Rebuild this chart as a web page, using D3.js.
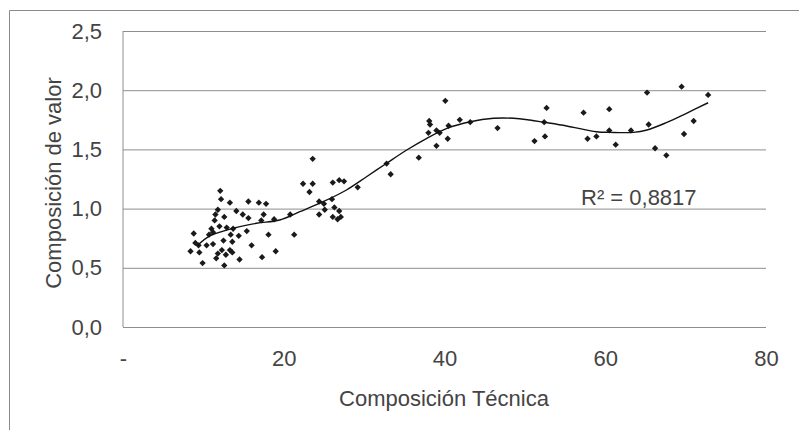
<!DOCTYPE html>
<html>
<head>
<meta charset="utf-8">
<script src="https://cdn.jsdelivr.net/npm/d3@7/dist/d3.min.js"></script>
<style>
  html, body { margin: 0; padding: 0; background: #fff; }
  svg { display: block; }
  text { font-family: "Liberation Sans", Arial, sans-serif; fill: #444; }
</style>
</head>
<body>
<svg id="chart" width="799" height="430"></svg>
<script>
// ---- data ----
const xValues = [
  12.1, 12.2, 13.3, 15.6, 16.9, 17.8, 11.8, 11.5, 12.6, 14.1, 14.9, 15.6, 17.5, 17.2, 18.8,
  11.4, 12.0, 12.9, 13.7, 11.0, 11.2, 15.4, 8.8, 10.7, 13.4, 14.4, 18.1, 12.5, 13.6, 9.0,
  9.4, 10.4, 11.2, 16.0, 8.4, 9.5, 12.3, 13.3, 13.6, 11.8, 12.8, 11.6, 19.0, 9.9, 14.5,
  17.3, 12.6,
  23.6, 22.4, 23.6, 23.2, 26.1, 26.9, 27.5, 29.2, 24.4, 25.0, 26.0, 25.1, 26.3, 24.4,
  26.9, 26.1, 26.7, 27.1, 20.8, 21.3,
  32.8, 33.3, 36.8, 38.1, 38.2, 38.0, 39.0, 39.4, 40.5, 40.1, 41.9, 43.2, 40.4, 39.0, 46.6,
  52.7, 52.4, 52.5, 51.2, 57.3, 57.8, 58.9, 60.5, 60.5, 61.3, 63.2, 65.2, 65.4, 66.2,
  67.6, 69.5, 69.8, 71.0, 72.8
];
const yValues = [
  1.15, 1.08, 1.05, 1.06, 1.05, 1.04, 0.99, 0.95, 0.93, 0.98, 0.95, 0.92, 0.95, 0.90, 0.91,
  0.90, 0.85, 0.84, 0.83, 0.83, 0.80, 0.81, 0.79, 0.78, 0.78, 0.77, 0.78, 0.73, 0.72, 0.71,
  0.69, 0.69, 0.70, 0.69, 0.64, 0.63, 0.65, 0.65, 0.63, 0.62, 0.61, 0.58, 0.64, 0.54, 0.57,
  0.59, 0.52,
  1.42, 1.21, 1.21, 1.14, 1.22, 1.24, 1.23, 1.18, 1.06, 1.04, 1.08, 0.99, 1.01, 0.95,
  0.98, 0.93, 0.91, 0.93, 0.95, 0.78,
  1.38, 1.29, 1.43, 1.74, 1.71, 1.64, 1.66, 1.64, 1.70, 1.91, 1.75, 1.73, 1.59, 1.53, 1.68,
  1.85, 1.73, 1.61, 1.57, 1.81, 1.59, 1.61, 1.84, 1.66, 1.54, 1.66, 1.98, 1.71, 1.51,
  1.45, 2.03, 1.63, 1.74, 1.96
];
// polynomial trend line
const trendX = [9.2, 10.8, 13.7, 16.6, 19.5, 22.0, 24.9, 27.8, 30.3, 32.8, 35.3, 37.8, 40.3,
  43.2, 46.1, 48.6, 50.6, 52.4, 55.2, 58.9, 60.6, 63.5, 65.2, 67.6, 70.1, 72.8];
const trendY = [0.684, 0.769, 0.834, 0.876, 0.904, 0.974, 1.058, 1.157, 1.269, 1.383, 1.495,
  1.594, 1.678, 1.734, 1.763, 1.763, 1.748, 1.729, 1.698, 1.649, 1.644, 1.644, 1.664, 1.726,
  1.805, 1.894];
const xTicks = [0, 20, 40, 60, 80];
const xTickLabels = ["-", "20", "40", "60", "80"];
const yTicks = [0, 0.5, 1.0, 1.5, 2.0, 2.5];
const yTickLabels = ["0,0", "0,5", "1,0", "1,5", "2,0", "2,5"];
const xTitle = "Composición Técnica";
const yTitle = "Composición de valor";
const r2Label = "R² = 0,8817";

// ---- layout ----
const svg = d3.select("#chart");
const plot = { left: 123, right: 766, top: 31, bottom: 327 };
const x = d3.scaleLinear().domain([0, 80]).range([plot.left, plot.right]);
const y = d3.scaleLinear().domain([0, 2.5]).range([plot.bottom, plot.top]);
const gridColor = "#8e8e8e";
const fontSize = 22;
const textColor = "#444";

// outer chart border (left + top only visible)
svg.append("path")
  .attr("d", "M9.5,430 L9.5,10.5 L799,10.5")
  .attr("fill", "none").attr("stroke", "#8a8a8a").attr("stroke-width", 1);

// horizontal gridlines + y labels
const yAxis = d3.axisLeft(y)
  .tickValues(yTicks)
  .tickFormat((d, i) => yTickLabels[i])
  .tickSize(-(plot.right - plot.left))
  .tickPadding(21);
const gy = svg.append("g").attr("transform", `translate(${plot.left},0)`).call(yAxis);
gy.select(".domain").remove();
gy.selectAll("line").attr("stroke", gridColor).attr("stroke-width", 1);
gy.selectAll("text").attr("font-size", fontSize).attr("fill", textColor)
  .attr("font-family", "Liberation Sans, Arial, sans-serif");

// left axis line
svg.append("line")
  .attr("x1", plot.left).attr("x2", plot.left)
  .attr("y1", y(2.5)).attr("y2", y(0))
  .attr("stroke", gridColor).attr("stroke-width", 1);

// x axis labels
const xAxis = d3.axisBottom(x)
  .tickValues(xTicks)
  .tickFormat((d, i) => xTickLabels[i])
  .tickSize(0)
  .tickPadding(23);
const gx = svg.append("g").attr("transform", `translate(0,${plot.bottom})`).call(xAxis);
gx.select(".domain").remove();
gx.selectAll("text").attr("font-size", fontSize).attr("fill", textColor)
  .attr("font-family", "Liberation Sans, Arial, sans-serif");

// axis titles
svg.append("text")
  .attr("x", 444)
  .attr("y", 406)
  .attr("text-anchor", "middle")
  .attr("font-size", fontSize)
  .attr("fill", textColor)
  .text(xTitle);
svg.append("text")
  .attr("transform", `translate(61,${(plot.top + plot.bottom) / 2 + 4}) rotate(-90)`)
  .attr("text-anchor", "middle")
  .attr("font-size", fontSize)
  .attr("fill", textColor)
  .text(yTitle);

// points
const pts = xValues.map((d, i) => [d, yValues[i]]);
svg.append("g").selectAll("path").data(pts).join("path")
  .attr("d", d3.symbol().type(d3.symbolSquare).size(20))
  .attr("transform", d => `translate(${x(d[0])},${y(d[1])}) rotate(45)`)
  .attr("fill", "#1a1a1a");

// trend line
const trend = trendX.map((d, i) => [d, trendY[i]]);
svg.append("path")
  .datum(trend)
  .attr("d", d3.line().x(d => x(d[0])).y(d => y(d[1])).curve(d3.curveCatmullRom))
  .attr("fill", "none").attr("stroke", "#111").attr("stroke-width", 1.4);

// R² label
svg.append("text")
  .attr("x", 581).attr("y", 205)
  .attr("font-size", fontSize)
  .attr("fill", textColor)
  .text(r2Label);
</script>
</body>
</html>
